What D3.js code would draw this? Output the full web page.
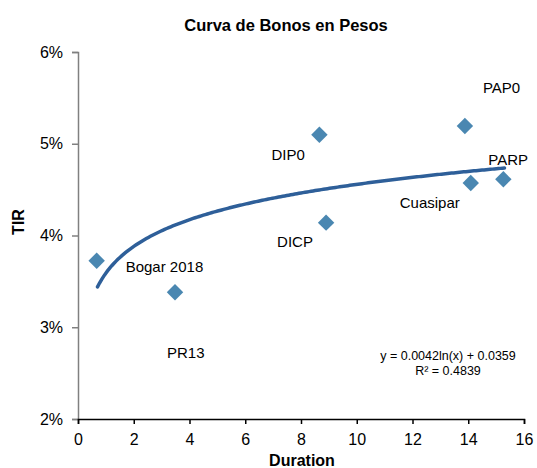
<!DOCTYPE html>
<html>
<head>
<meta charset="utf-8">
<script src="https://cdn.jsdelivr.net/npm/d3@7"></script>
<style>
  body { margin: 0; background: #fff; }
  text { font-family: "Liberation Sans", Arial, sans-serif; fill: #000; }
</style>
</head>
<body>
<div class="chart"></div>
<script>
// data
const bondNames = ["Bogar 2018", "PR13", "DIP0", "DICP", "PAP0", "Cuasipar", "PARP"];
const durations = [0.67, 3.48, 8.66, 8.9, 13.88, 14.09, 15.26];
const tirValues = [0.03725, 0.03381, 0.05099, 0.0414, 0.05193, 0.04572, 0.04613];
const yTicks = [0.02, 0.03, 0.04, 0.05, 0.06];
const xTicks = [0, 2, 4, 6, 8, 10, 12, 14, 16];
// trend y = a ln(x) + b
const trendA = 0.0042;
const trendB = 0.0359;
const trendRange = [0.7, 15.3];

// label offsets (px) relative to marker
const labelDx = [29, -8, -48, -49, 18, -71, -15];
const labelDy = [11, 66, 25, 24, -33, 25, -14];

const W = 537, H = 468;
const margin = { top: 52, right: 13, bottom: 49, left: 78 };
const width = W - margin.left - margin.right;
const height = H - margin.top - margin.bottom;

const svg = d3.select(".chart").append("svg").attr("width", W).attr("height", H);

svg.append("text")
  .attr("x", 286).attr("y", 30.5)
  .attr("text-anchor", "middle")
  .style("font-size", "16.5px").style("font-weight", "bold")
  .text("Curva de Bonos en Pesos");

const g = svg.append("g").attr("transform", `translate(${margin.left},${margin.top})`);

const x = d3.scaleLinear().domain([0, 16]).range([0, width]);
const y = d3.scaleLinear().domain([0.02, 0.06]).range([height, 0]);

// y axis
const yAxis = g.append("g")
  .call(d3.axisLeft(y).tickValues(yTicks).tickFormat(d3.format(".0%")).tickSize(6).tickPadding(9));
yAxis.select(".domain").attr("stroke", "#808080").attr("stroke-width", 1.5);
yAxis.selectAll(".tick line").attr("stroke", "#808080").attr("stroke-width", 1.5);
yAxis.selectAll("text").style("font-size", "16px");

// x axis
const xAxis = g.append("g").attr("transform", `translate(0,${height})`)
  .call(d3.axisBottom(x).tickValues(xTicks).tickSize(5).tickPadding(9.5));
xAxis.select(".domain").attr("stroke", "#000").attr("stroke-width", 1.5);
xAxis.selectAll(".tick line").attr("stroke", "#000").attr("stroke-width", 1.5);
xAxis.selectAll("text").style("font-size", "16px");

// axis titles
svg.append("text")
  .attr("transform", "rotate(-90)")
  .attr("x", -222).attr("y", 24)
  .attr("text-anchor", "middle")
  .style("font-size", "16px").style("font-weight", "bold")
  .text("TIR");

svg.append("text")
  .attr("x", 302).attr("y", 466)
  .attr("text-anchor", "middle")
  .style("font-size", "16px").style("font-weight", "bold")
  .text("Duration");

// trend line
const trendPts = d3.range(0, 201).map(i => {
  const xv = trendRange[0] + (trendRange[1] - trendRange[0]) * i / 200;
  return [xv, trendA * Math.log(xv) + trendB];
});
g.append("path")
  .datum(trendPts)
  .attr("fill", "none")
  .attr("stroke", "#2E5F99")
  .attr("stroke-width", 3.5)
  .attr("stroke-linecap", "round")
  .attr("d", d3.line().x(d => x(d[0])).y(d => y(d[1])));

// points
const pts = bondNames.map((n, i) => ({ name: n, dur: durations[i], tir: tirValues[i], dx: labelDx[i], dy: labelDy[i] }));
g.selectAll(".dot")
  .data(pts)
  .enter()
  .append("path")
  .attr("class", "dot")
  .attr("d", d3.symbol().type(d3.symbolSquare).size(135))
  .attr("transform", d => `translate(${x(d.dur)},${y(d.tir)}) rotate(45)`)
  .attr("fill", "#4A87B1");

g.selectAll(".lbl")
  .data(pts)
  .enter()
  .append("text")
  .attr("class", "lbl")
  .attr("x", d => x(d.dur) + d.dx)
  .attr("y", d => y(d.tir) + d.dy)
  .style("font-size", "15px")
  .text(d => d.name);

// equation
const eq = g.append("text")
  .attr("text-anchor", "middle")
  .style("font-size", "12.5px");
eq.append("tspan").attr("x", 370).attr("y", 308).text("y = 0.0042ln(x) + 0.0359");
eq.append("tspan").attr("x", 370).attr("y", 323).text("R² = 0.4839");
</script>
</body>
</html>
